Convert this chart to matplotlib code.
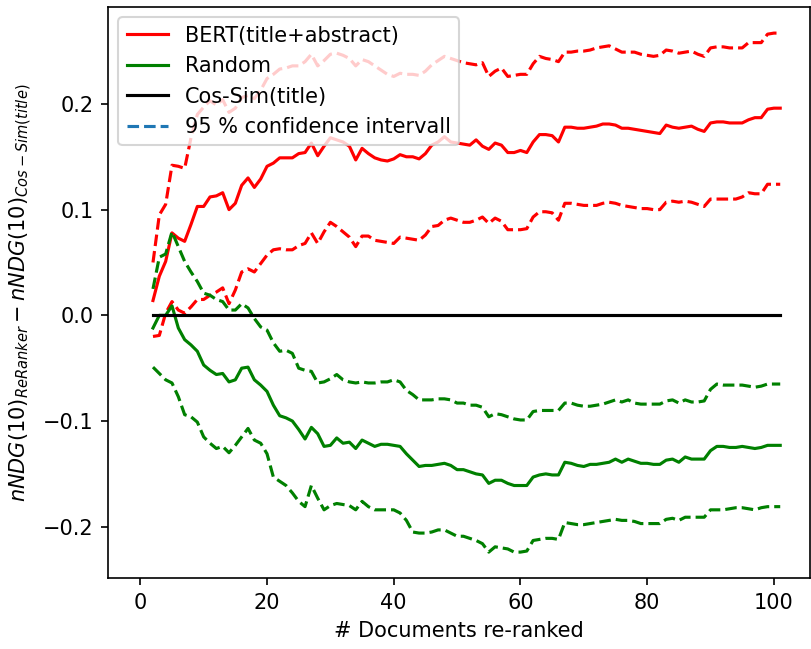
import numpy as np
import matplotlib
matplotlib.use('Agg')
import matplotlib.pyplot as plt
from matplotlib.lines import Line2D

# number of re-ranked documents (2..101)
docs = np.arange(2, 102)

bert_mean = [
    0.014, 0.037, 0.051, 0.078, 0.073, 0.070, 0.086, 0.103, 0.103, 0.112,
    0.113, 0.116, 0.100, 0.106, 0.123, 0.130, 0.121, 0.129, 0.141, 0.144,
    0.149, 0.149, 0.149, 0.153, 0.154, 0.163, 0.151, 0.160, 0.168, 0.166,
    0.164, 0.160, 0.147, 0.158, 0.153, 0.149, 0.147, 0.146, 0.148, 0.152,
    0.150, 0.150, 0.148, 0.153, 0.161, 0.164, 0.169, 0.164, 0.163,
    0.162, 0.161, 0.166, 0.160, 0.157, 0.163, 0.161, 0.154, 0.154, 0.156,
    0.154, 0.164, 0.171, 0.171, 0.170, 0.164, 0.178, 0.178, 0.177, 0.177,
    0.178, 0.179, 0.181, 0.181, 0.180, 0.177, 0.177, 0.176, 0.175, 0.174,
    0.173, 0.172, 0.180, 0.178, 0.177, 0.178, 0.179, 0.176, 0.174, 0.182,
    0.183, 0.183, 0.182, 0.182, 0.182, 0.185, 0.187, 0.187, 0.195, 0.196,
    0.196,
]
bert_upper = [
    0.050, 0.095, 0.105, 0.142, 0.141, 0.139, 0.168, 0.190, 0.197, 0.203,
    0.199, 0.204, 0.192, 0.196, 0.206, 0.208, 0.205, 0.213, 0.224, 0.228,
    0.233, 0.234, 0.236, 0.236, 0.240, 0.247, 0.236, 0.241, 0.247, 0.248,
    0.246, 0.243, 0.236, 0.242, 0.240, 0.236, 0.232, 0.228, 0.226, 0.229,
    0.228, 0.228, 0.227, 0.231, 0.237, 0.241, 0.245, 0.243, 0.241,
    0.239, 0.238, 0.237, 0.239, 0.226, 0.231, 0.234, 0.226, 0.227, 0.228,
    0.228, 0.238, 0.245, 0.243, 0.242, 0.240, 0.249, 0.249, 0.250, 0.250,
    0.251, 0.253, 0.254, 0.255, 0.252, 0.249, 0.249, 0.249, 0.247, 0.246,
    0.245, 0.246, 0.251, 0.250, 0.248, 0.249, 0.250, 0.247, 0.245, 0.253,
    0.254, 0.254, 0.253, 0.253, 0.253, 0.258, 0.258, 0.258, 0.266, 0.267,
    0.267,
]
bert_lower = [
    -0.020, -0.019, 0.002, 0.013, 0.005, 0.002, 0.008, 0.015, 0.015, 0.019,
    0.022, 0.026, 0.011, 0.024, 0.041, 0.044, 0.041, 0.049, 0.057, 0.062,
    0.063, 0.062, 0.062, 0.066, 0.068, 0.078, 0.068, 0.079, 0.088, 0.084,
    0.079, 0.074, 0.065, 0.075, 0.075, 0.071, 0.070, 0.069, 0.068, 0.074,
    0.073, 0.072, 0.071, 0.076, 0.084, 0.085, 0.090, 0.092, 0.090,
    0.088, 0.088, 0.090, 0.093, 0.087, 0.092, 0.089, 0.081, 0.081, 0.081,
    0.082, 0.093, 0.098, 0.098, 0.097, 0.090, 0.106, 0.106, 0.105, 0.104,
    0.104, 0.104, 0.106, 0.107, 0.106, 0.104, 0.103, 0.102, 0.101, 0.101,
    0.100, 0.100, 0.107, 0.108, 0.107, 0.108, 0.107, 0.105, 0.103, 0.110,
    0.110, 0.110, 0.110, 0.110, 0.112, 0.116, 0.115, 0.115, 0.124, 0.124,
    0.124,
]

rand_mean = [
    -0.012, 0.000, 0.000, 0.009, -0.012, -0.023, -0.028, -0.034, -0.047, -0.052,
    -0.056, -0.055, -0.063, -0.061, -0.050, -0.049, -0.061, -0.066, -0.072, -0.085,
    -0.095, -0.097, -0.100, -0.108, -0.117, -0.106, -0.112, -0.124, -0.123, -0.116,
    -0.121, -0.120, -0.126, -0.118, -0.121, -0.124, -0.122, -0.122, -0.123, -0.124,
    -0.131, -0.137, -0.143, -0.142, -0.142, -0.141, -0.140, -0.142, -0.146,
    -0.146, -0.148, -0.150, -0.151, -0.159, -0.156, -0.156, -0.159, -0.161, -0.161,
    -0.161, -0.153, -0.151, -0.150, -0.151, -0.151, -0.139, -0.140, -0.142, -0.143,
    -0.141, -0.141, -0.140, -0.139, -0.136, -0.139, -0.136, -0.138, -0.140, -0.140,
    -0.141, -0.141, -0.137, -0.136, -0.139, -0.134, -0.136, -0.136, -0.136, -0.128,
    -0.124, -0.124, -0.125, -0.125, -0.124, -0.125, -0.126, -0.125, -0.123, -0.123,
    -0.123,
]
rand_upper = [
    0.025, 0.055, 0.058, 0.079, 0.065, 0.051, 0.041, 0.032, 0.021, 0.019,
    0.015, 0.013, 0.005, 0.005, 0.011, 0.007, -0.003, -0.011, -0.014, -0.026,
    -0.034, -0.033, -0.036, -0.050, -0.052, -0.053, -0.064, -0.063, -0.060, -0.056,
    -0.061, -0.063, -0.064, -0.063, -0.064, -0.064, -0.063, -0.063, -0.061, -0.063,
    -0.071, -0.075, -0.080, -0.080, -0.080, -0.079, -0.079, -0.080, -0.083,
    -0.083, -0.085, -0.085, -0.087, -0.096, -0.093, -0.094, -0.096, -0.098, -0.099,
    -0.099, -0.091, -0.090, -0.090, -0.090, -0.090, -0.083, -0.083, -0.085, -0.086,
    -0.086, -0.085, -0.084, -0.082, -0.080, -0.082, -0.080, -0.083, -0.084, -0.084,
    -0.084, -0.084, -0.081, -0.080, -0.083, -0.080, -0.082, -0.082, -0.081, -0.070,
    -0.065, -0.066, -0.066, -0.066, -0.066, -0.067, -0.068, -0.067, -0.065, -0.065,
    -0.065,
]
rand_lower = [
    -0.049, -0.055, -0.061, -0.064, -0.077, -0.094, -0.096, -0.101, -0.115, -0.121,
    -0.126, -0.124, -0.130, -0.123, -0.115, -0.107, -0.118, -0.121, -0.131, -0.153,
    -0.157, -0.161, -0.168, -0.176, -0.181, -0.161, -0.173, -0.184, -0.180, -0.178,
    -0.179, -0.180, -0.184, -0.176, -0.181, -0.184, -0.184, -0.184, -0.184, -0.187,
    -0.194, -0.205, -0.206, -0.206, -0.205, -0.203, -0.203, -0.206, -0.209,
    -0.209, -0.211, -0.213, -0.216, -0.224, -0.219, -0.220, -0.221, -0.224, -0.224,
    -0.223, -0.213, -0.212, -0.211, -0.211, -0.212, -0.196, -0.197, -0.198, -0.198,
    -0.197, -0.196, -0.195, -0.194, -0.193, -0.194, -0.194, -0.195, -0.197, -0.197,
    -0.197, -0.197, -0.193, -0.192, -0.194, -0.191, -0.191, -0.191, -0.191, -0.184,
    -0.184, -0.184, -0.183, -0.182, -0.182, -0.183, -0.184, -0.182, -0.181, -0.181,
    -0.181,
]

# Cos-Sim(title) is the baseline -> difference 0
baseline = np.zeros(len(docs))

dpi = 150
fig = plt.figure(figsize=(811 / dpi, 649 / dpi), dpi=dpi)
ax = fig.add_axes([108 / 811, (649 - 578) / 649, (810 - 108) / 811, (578 - 7) / 649])

ax.plot(docs, bert_mean, color='red', label='BERT(title+abstract)')
ax.plot(docs, bert_upper, color='red', linestyle='--')
ax.plot(docs, bert_lower, color='red', linestyle='--')
ax.plot(docs, rand_mean, color='green', label='Random')
ax.plot(docs, rand_upper, color='green', linestyle='--')
ax.plot(docs, rand_lower, color='green', linestyle='--')
ax.plot(docs, baseline, color='black', label='Cos-Sim(title)')

ax.set_xlim(-5.1, 105.7)
ax.set_ylim(-0.2485, 0.2917)
ax.set_xticks([0, 20, 40, 60, 80, 100])
ax.set_yticks([-0.2, -0.1, 0.0, 0.1, 0.2])

ax.set_xlabel('# Documents re-ranked')
ax.set_ylabel(r'$nNDG(10)_{ReRanker} - nNDG(10)_{Cos-Sim(title)}$')

handles, labels = ax.get_legend_handles_labels()
handles.append(Line2D([0], [0], color='C0', linestyle='--'))
labels.append('95 % confidence intervall')
ax.legend(handles, labels, loc='upper left')

fig.savefig('out.png', dpi=dpi)
